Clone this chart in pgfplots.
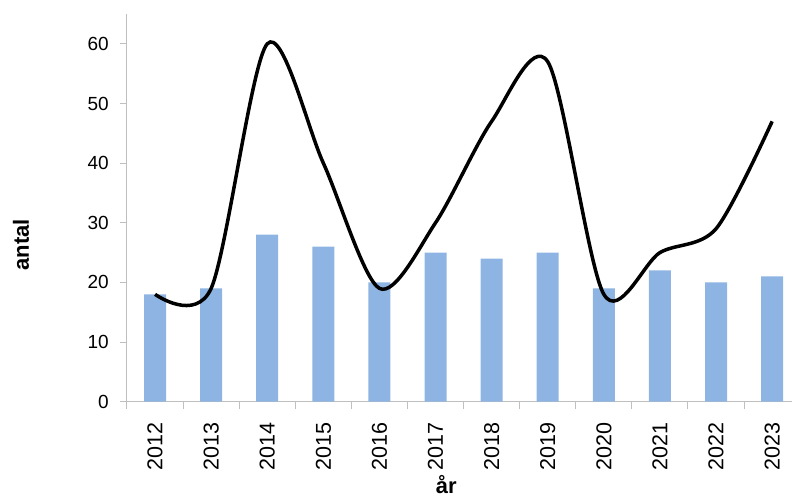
\documentclass[border=0pt]{standalone}
\usepackage{fontspec}
\setmainfont{Liberation Sans}
\usepackage{pgfplots}
\pgfplotsset{compat=1.18}
\definecolor{barblue}{RGB}{141,180,226}
\definecolor{axgray}{RGB}{191,191,191}
\begin{document}
\begin{tikzpicture}
\begin{axis}[
  at={(127pt,95.3pt)}, anchor=south west,
  scale only axis, width=665pt, height=387.7pt,
  xmin=-0.5, xmax=11.354, ymin=0, ymax=65,
  axis lines=left,
  axis line style={-, draw=axgray, line width=1pt},
  tick style={draw=axgray, line width=1pt},
  tick align=outside,
  xtick={0,...,11},
  xticklabels={2012,2013,2014,2015,2016,2017,2018,2019,2020,2021,2022,2023},
  major x tick style={draw=none},
  minor xtick={-0.5,0.5,...,10.5},
  minor tick length=7pt,
  ytick={0,10,...,60},
  major tick length=7pt,
  /pgf/number format/assume math mode=true,
  yticklabel style={font=\fontsize{19}{22}\selectfont, inner sep=0pt, xshift=-11pt},
  xticklabel style={font=\fontsize{21.5}{25}\selectfont, rotate=90, anchor=east, inner sep=0pt, xshift=-14pt},
  xlabel={år},
  ylabel={antal},
  xlabel style={font=\bfseries\fontsize{22}{26}\selectfont, at={(axis description cs:0.48,-0.19)}, anchor=north, inner sep=0pt},
  ylabel style={font=\bfseries\fontsize{22}{26}\selectfont, at={(axis description cs:-0.1594,0.405)}, anchor=center, inner sep=0pt},
  clip=false,
]
\addplot[ybar, bar width=22pt, fill=barblue, draw=none] coordinates {
 (0,18) (1,19) (2,28) (3,26) (4,20) (5,25) (6,24) (7,25) (8,19) (9,22) (10,20) (11,21)};
\addplot[smooth, black, line width=3.5pt, mark=none] coordinates {
 (0,18) (1,19) (2,60) (3,40) (4,19) (5,30) (6,47) (7,57) (8,18) (9,25) (10,29) (11,47)};
\end{axis}
\pgfresetboundingbox
\useasboundingbox (0,0) rectangle (792pt,497pt);
\end{tikzpicture}
\end{document}
